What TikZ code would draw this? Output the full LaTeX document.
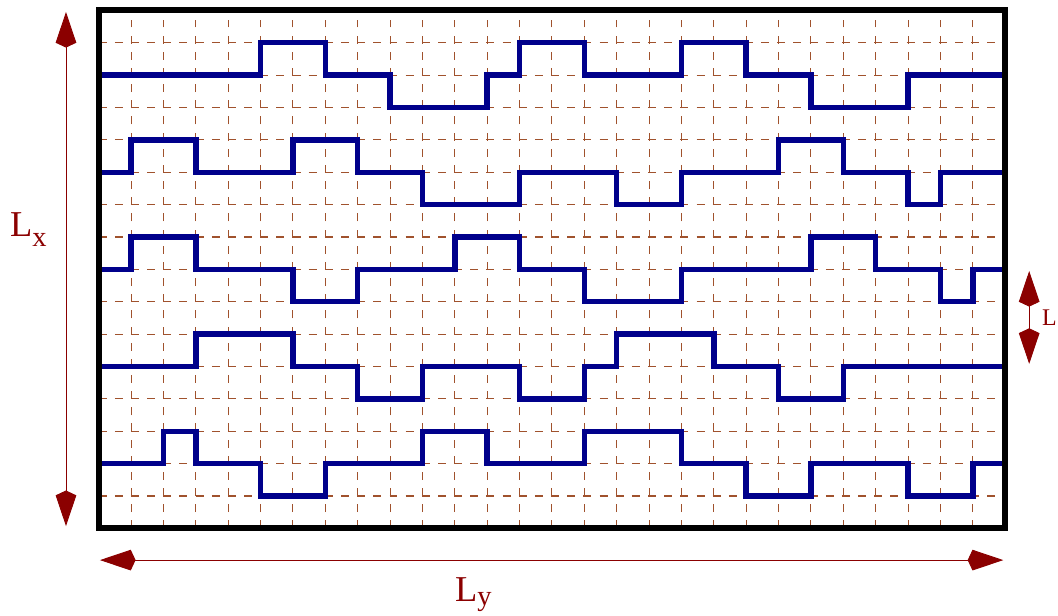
\documentclass[tikz,border=0pt]{standalone}
\usepackage{fontspec}
\setmainfont{Liberation Serif}
\usepackage{xcolor}
\usepackage{tikz}
\usetikzlibrary{arrows.meta,positioning}
\definecolor{gridbrown}{HTML}{A0522D}
\definecolor{walkblue}{HTML}{00008B}
\definecolor{dimred}{HTML}{8B0000}
\tikzset{
  gridline/.style={gridbrown,line width=0.9pt,dash pattern=on 7pt off 7.2pt},
  walkline/.style={walkblue,line width=4.8pt,line join=miter},
  frameline/.style={black,line width=5.3pt,line join=miter},
  dimarrow/.style={{Kite[length=1.1cm,width=0.64cm,inset=0.15cm]}-{Kite[length=1.1cm,width=0.64cm,inset=0.15cm]},dimred,line width=0.8pt},
  dimlabel/.style={dimred,inner sep=0pt,anchor=base west,font=\fontsize{32}{36}\selectfont},
  sublabel/.style={dimlabel,font=\fontsize{21}{24}\selectfont},
}

\begin{document}
\begin{tikzpicture}
  \useasboundingbox (-3.048,-2.68) rectangle (29.63,16.32);
  % dashed lattice
  \draw[gridline] (0,0) grid (28,16);
  % the five chains
  \draw[walkline] (0,14) -| (5,15) -| (7,14) -| (9,13) -| (12,14) -| (13,15) -| (15,14) -| (18,15) -| (20,14) -| (22,13) -| (25,14) -- (28,14);
  \draw[walkline] (0,11) -| (1,12) -| (3,11) -| (6,12) -| (8,11) -| (10,10) -| (13,11) -| (16,10) -| (18,11) -| (21,12) -| (23,11) -| (25,10) -| (26,11) -- (28,11);
  \draw[walkline] (0,8) -| (1,9) -| (3,8) -| (6,7) -| (8,8) -| (11,9) -| (13,8) -| (15,7) -| (18,8) -| (22,9) -| (24,8) -| (26,7) -| (27,8) -- (28,8);
  \draw[walkline] (0,5) -| (3,6) -| (6,5) -| (8,4) -| (10,5) -| (13,4) -| (15,5) -| (16,6) -| (19,5) -| (21,4) -| (23,5) -- (28,5);
  \draw[walkline] (0,2) -| (2,3) -| (3,2) -| (5,1) -| (7,2) -| (10,3) -| (12,2) -| (15,3) -| (18,2) -| (20,1) -| (22,2) -| (25,1) -| (27,2) -- (28,2);
  % box
  \draw[frameline] (0,0) rectangle (28,16);
  % sizes
  \coordinate (lxtop) at (-1.01,15.95);
  \coordinate (lxbot) at (-1.01,0.07);
  \coordinate (lyleft) at (0.04,-0.98);
  \coordinate (lyright) at (27.94,-0.98);
  \coordinate (ltop) at (28.74,7.95);
  \coordinate (lbot) at (28.74,5.08);
  \draw[dimarrow] (lxbot) -- (lxtop);
  \draw[dimarrow] (lyleft) -- (lyright);
  \draw[dimarrow] (lbot) -- (ltop);
  \node[dimlabel] (nLx) at (-2.74,9.0) {L\raisebox{-0.25em}{\fontsize{25}{28}\selectfont x}};
  \node[dimlabel] (nLy) at (11.0,-2.25) {L\raisebox{-0.12em}{\fontsize{25}{28}\selectfont y}};
  \node[sublabel] (nL) at (29.13,6.28) {L};
\end{tikzpicture}
\end{document}
